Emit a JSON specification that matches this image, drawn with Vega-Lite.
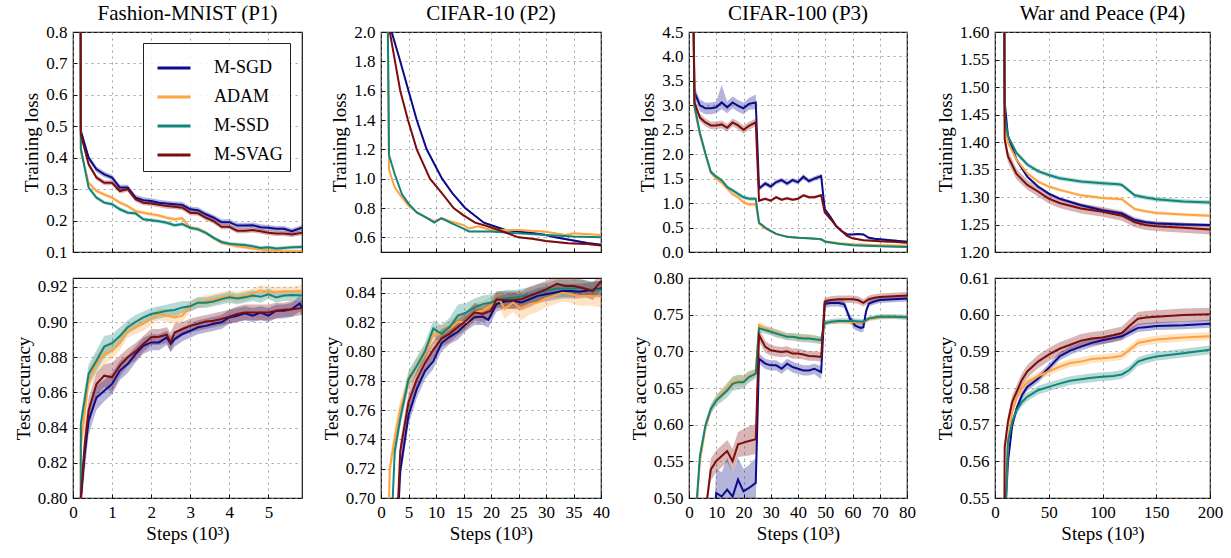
{
"$schema": "https://vega.github.io/schema/vega-lite/v6.json",
"padding": {"left": 13, "top": 2, "right": 5, "bottom": 0},
"background": "white",
"columns": 4,
"align": "each",
"spacing": {"row": 7, "column": 18},
"config": {
 "font": "Liberation Serif",
 "view": {"stroke": "#111", "strokeWidth": 1.2},
 "axis": {"grid": true, "gridColor": "#888", "gridDash": [2, 4], "gridWidth": 0.8, "domain": false, "tickSize": -4, "tickColor": "#111", "labelFont": "Liberation Serif", "labelFontSize": 17, "labelColor": "#000", "titleFont": "Liberation Serif", "titleFontSize": 19, "titleFontWeight": "normal", "titleColor": "#000", "labelPadding": 10, "labelFlush": false},
 "title": {"font": "Liberation Serif", "fontSize": 21, "fontWeight": "normal", "color": "#000", "offset": -1, "anchor": "middle", "frame": "group"},
 "legend": {"symbolType": "stroke", "symbolStrokeWidth": 3, "symbolSize": 1089, "symbolOffset": 6, "labelFont": "Liberation Serif", "labelFontSize": 18, "labelColor": "#000", "strokeColor": "#222", "fillColor": "rgba(255,255,255,0.85)", "padding": 7, "labelOffset": 22, "rowPadding": 2}
},
"datasets": {
"p1t": [
{"m":"M-SGD","x":0.18,"v":2.3,"lo":2.29,"hi":2.31},
{"m":"M-SGD","x":0.2,"v":0.486,"lo":0.477,"hi":0.495},
{"m":"M-SGD","x":0.4,"v":0.4,"lo":0.391,"hi":0.409},
{"m":"M-SGD","x":0.6,"v":0.363,"lo":0.354,"hi":0.372},
{"m":"M-SGD","x":0.8,"v":0.347,"lo":0.338,"hi":0.356},
{"m":"M-SGD","x":1.0,"v":0.337,"lo":0.328,"hi":0.346},
{"m":"M-SGD","x":1.2,"v":0.305,"lo":0.296,"hi":0.314},
{"m":"M-SGD","x":1.4,"v":0.305,"lo":0.296,"hi":0.314},
{"m":"M-SGD","x":1.6,"v":0.273,"lo":0.264,"hi":0.282},
{"m":"M-SGD","x":1.8,"v":0.265,"lo":0.256,"hi":0.274},
{"m":"M-SGD","x":2.0,"v":0.262,"lo":0.253,"hi":0.271},
{"m":"M-SGD","x":2.2,"v":0.257,"lo":0.248,"hi":0.266},
{"m":"M-SGD","x":2.4,"v":0.254,"lo":0.245,"hi":0.263},
{"m":"M-SGD","x":2.6,"v":0.252,"lo":0.243,"hi":0.261},
{"m":"M-SGD","x":2.8,"v":0.25,"lo":0.241,"hi":0.259},
{"m":"M-SGD","x":3.0,"v":0.236,"lo":0.227,"hi":0.245},
{"m":"M-SGD","x":3.2,"v":0.233,"lo":0.224,"hi":0.242},
{"m":"M-SGD","x":3.4,"v":0.22,"lo":0.211,"hi":0.229},
{"m":"M-SGD","x":3.6,"v":0.209,"lo":0.2,"hi":0.218},
{"m":"M-SGD","x":3.8,"v":0.195,"lo":0.186,"hi":0.204},
{"m":"M-SGD","x":4.0,"v":0.195,"lo":0.186,"hi":0.204},
{"m":"M-SGD","x":4.2,"v":0.184,"lo":0.175,"hi":0.193},
{"m":"M-SGD","x":4.4,"v":0.184,"lo":0.175,"hi":0.193},
{"m":"M-SGD","x":4.6,"v":0.185,"lo":0.176,"hi":0.194},
{"m":"M-SGD","x":4.8,"v":0.179,"lo":0.17,"hi":0.188},
{"m":"M-SGD","x":5.0,"v":0.177,"lo":0.168,"hi":0.186},
{"m":"M-SGD","x":5.2,"v":0.174,"lo":0.165,"hi":0.183},
{"m":"M-SGD","x":5.4,"v":0.174,"lo":0.165,"hi":0.183},
{"m":"M-SGD","x":5.6,"v":0.166,"lo":0.157,"hi":0.175},
{"m":"M-SGD","x":5.86,"v":0.177,"lo":0.168,"hi":0.186},
{"m":"ADAM","x":0.18,"v":2.3,"lo":2.29,"hi":2.31},
{"m":"ADAM","x":0.2,"v":0.42,"lo":0.414,"hi":0.426},
{"m":"ADAM","x":0.4,"v":0.32,"lo":0.314,"hi":0.326},
{"m":"ADAM","x":0.6,"v":0.294,"lo":0.288,"hi":0.3},
{"m":"ADAM","x":0.8,"v":0.283,"lo":0.277,"hi":0.289},
{"m":"ADAM","x":1.0,"v":0.273,"lo":0.267,"hi":0.279},
{"m":"ADAM","x":1.2,"v":0.257,"lo":0.251,"hi":0.263},
{"m":"ADAM","x":1.4,"v":0.246,"lo":0.24,"hi":0.252},
{"m":"ADAM","x":1.6,"v":0.23,"lo":0.224,"hi":0.236},
{"m":"ADAM","x":1.8,"v":0.225,"lo":0.219,"hi":0.231},
{"m":"ADAM","x":2.0,"v":0.22,"lo":0.214,"hi":0.226},
{"m":"ADAM","x":2.2,"v":0.216,"lo":0.21,"hi":0.222},
{"m":"ADAM","x":2.4,"v":0.209,"lo":0.203,"hi":0.215},
{"m":"ADAM","x":2.6,"v":0.204,"lo":0.198,"hi":0.21},
{"m":"ADAM","x":2.8,"v":0.207,"lo":0.201,"hi":0.213},
{"m":"ADAM","x":3.0,"v":0.177,"lo":0.171,"hi":0.183},
{"m":"ADAM","x":3.2,"v":0.174,"lo":0.168,"hi":0.18},
{"m":"ADAM","x":3.4,"v":0.161,"lo":0.155,"hi":0.167},
{"m":"ADAM","x":3.6,"v":0.145,"lo":0.139,"hi":0.151},
{"m":"ADAM","x":3.8,"v":0.129,"lo":0.123,"hi":0.135},
{"m":"ADAM","x":4.0,"v":0.124,"lo":0.118,"hi":0.13},
{"m":"ADAM","x":4.2,"v":0.118,"lo":0.112,"hi":0.124},
{"m":"ADAM","x":4.4,"v":0.115,"lo":0.109,"hi":0.121},
{"m":"ADAM","x":4.6,"v":0.111,"lo":0.105,"hi":0.117},
{"m":"ADAM","x":4.8,"v":0.108,"lo":0.102,"hi":0.114},
{"m":"ADAM","x":5.0,"v":0.105,"lo":0.099,"hi":0.111},
{"m":"ADAM","x":5.2,"v":0.105,"lo":0.099,"hi":0.111},
{"m":"ADAM","x":5.4,"v":0.102,"lo":0.096,"hi":0.108},
{"m":"ADAM","x":5.6,"v":0.102,"lo":0.096,"hi":0.108},
{"m":"ADAM","x":5.86,"v":0.102,"lo":0.096,"hi":0.108},
{"m":"M-SSD","x":0.18,"v":2.3,"lo":2.29,"hi":2.31},
{"m":"M-SSD","x":0.2,"v":0.43,"lo":0.424,"hi":0.436},
{"m":"M-SSD","x":0.4,"v":0.305,"lo":0.299,"hi":0.311},
{"m":"M-SSD","x":0.6,"v":0.273,"lo":0.267,"hi":0.279},
{"m":"M-SSD","x":0.8,"v":0.257,"lo":0.251,"hi":0.263},
{"m":"M-SSD","x":1.0,"v":0.252,"lo":0.246,"hi":0.258},
{"m":"M-SSD","x":1.2,"v":0.236,"lo":0.23,"hi":0.242},
{"m":"M-SSD","x":1.4,"v":0.225,"lo":0.219,"hi":0.231},
{"m":"M-SSD","x":1.6,"v":0.223,"lo":0.217,"hi":0.229},
{"m":"M-SSD","x":1.8,"v":0.204,"lo":0.198,"hi":0.21},
{"m":"M-SSD","x":2.0,"v":0.201,"lo":0.195,"hi":0.207},
{"m":"M-SSD","x":2.2,"v":0.198,"lo":0.192,"hi":0.204},
{"m":"M-SSD","x":2.4,"v":0.193,"lo":0.187,"hi":0.199},
{"m":"M-SSD","x":2.6,"v":0.185,"lo":0.179,"hi":0.191},
{"m":"M-SSD","x":2.8,"v":0.189,"lo":0.183,"hi":0.195},
{"m":"M-SSD","x":3.0,"v":0.177,"lo":0.171,"hi":0.183},
{"m":"M-SSD","x":3.2,"v":0.172,"lo":0.166,"hi":0.178},
{"m":"M-SSD","x":3.4,"v":0.161,"lo":0.155,"hi":0.167},
{"m":"M-SSD","x":3.6,"v":0.145,"lo":0.139,"hi":0.151},
{"m":"M-SSD","x":3.8,"v":0.132,"lo":0.126,"hi":0.138},
{"m":"M-SSD","x":4.0,"v":0.126,"lo":0.12,"hi":0.132},
{"m":"M-SSD","x":4.2,"v":0.124,"lo":0.118,"hi":0.13},
{"m":"M-SSD","x":4.4,"v":0.122,"lo":0.116,"hi":0.128},
{"m":"M-SSD","x":4.6,"v":0.118,"lo":0.112,"hi":0.124},
{"m":"M-SSD","x":4.8,"v":0.113,"lo":0.107,"hi":0.119},
{"m":"M-SSD","x":5.0,"v":0.115,"lo":0.109,"hi":0.121},
{"m":"M-SSD","x":5.2,"v":0.111,"lo":0.105,"hi":0.117},
{"m":"M-SSD","x":5.4,"v":0.113,"lo":0.107,"hi":0.119},
{"m":"M-SSD","x":5.6,"v":0.115,"lo":0.109,"hi":0.121},
{"m":"M-SSD","x":5.86,"v":0.116,"lo":0.11,"hi":0.122},
{"m":"M-SVAG","x":0.18,"v":2.3,"lo":2.29,"hi":2.31},
{"m":"M-SVAG","x":0.2,"v":0.475,"lo":0.467,"hi":0.483},
{"m":"M-SVAG","x":0.4,"v":0.379,"lo":0.371,"hi":0.387},
{"m":"M-SVAG","x":0.6,"v":0.337,"lo":0.329,"hi":0.345},
{"m":"M-SVAG","x":0.8,"v":0.32,"lo":0.312,"hi":0.328},
{"m":"M-SVAG","x":1.0,"v":0.32,"lo":0.312,"hi":0.328},
{"m":"M-SVAG","x":1.2,"v":0.294,"lo":0.286,"hi":0.302},
{"m":"M-SVAG","x":1.4,"v":0.3,"lo":0.292,"hi":0.308},
{"m":"M-SVAG","x":1.6,"v":0.268,"lo":0.26,"hi":0.276},
{"m":"M-SVAG","x":1.8,"v":0.257,"lo":0.249,"hi":0.265},
{"m":"M-SVAG","x":2.0,"v":0.254,"lo":0.246,"hi":0.262},
{"m":"M-SVAG","x":2.2,"v":0.25,"lo":0.242,"hi":0.258},
{"m":"M-SVAG","x":2.4,"v":0.246,"lo":0.238,"hi":0.254},
{"m":"M-SVAG","x":2.6,"v":0.244,"lo":0.236,"hi":0.252},
{"m":"M-SVAG","x":2.8,"v":0.241,"lo":0.233,"hi":0.249},
{"m":"M-SVAG","x":3.0,"v":0.225,"lo":0.217,"hi":0.233},
{"m":"M-SVAG","x":3.2,"v":0.223,"lo":0.215,"hi":0.231},
{"m":"M-SVAG","x":3.4,"v":0.209,"lo":0.201,"hi":0.217},
{"m":"M-SVAG","x":3.6,"v":0.198,"lo":0.19,"hi":0.206},
{"m":"M-SVAG","x":3.8,"v":0.18,"lo":0.172,"hi":0.188},
{"m":"M-SVAG","x":4.0,"v":0.18,"lo":0.172,"hi":0.188},
{"m":"M-SVAG","x":4.2,"v":0.168,"lo":0.16,"hi":0.176},
{"m":"M-SVAG","x":4.4,"v":0.168,"lo":0.16,"hi":0.176},
{"m":"M-SVAG","x":4.6,"v":0.17,"lo":0.162,"hi":0.178},
{"m":"M-SVAG","x":4.8,"v":0.166,"lo":0.158,"hi":0.174},
{"m":"M-SVAG","x":5.0,"v":0.161,"lo":0.153,"hi":0.169},
{"m":"M-SVAG","x":5.2,"v":0.159,"lo":0.151,"hi":0.167},
{"m":"M-SVAG","x":5.4,"v":0.159,"lo":0.151,"hi":0.167},
{"m":"M-SVAG","x":5.6,"v":0.156,"lo":0.148,"hi":0.164},
{"m":"M-SVAG","x":5.86,"v":0.161,"lo":0.153,"hi":0.169}
],
"p1b": [
{"m":"M-SGD","x":0.18,"v":0.3,"lo":0.3,"hi":0.3},
{"m":"M-SGD","x":0.2,"v":0.8,"lo":0.79,"hi":0.81},
{"m":"M-SGD","x":0.3,"v":0.825,"lo":0.815,"hi":0.835},
{"m":"M-SGD","x":0.4,"v":0.844,"lo":0.836,"hi":0.852},
{"m":"M-SGD","x":0.6,"v":0.857,"lo":0.85,"hi":0.864},
{"m":"M-SGD","x":0.8,"v":0.861,"lo":0.855,"hi":0.867},
{"m":"M-SGD","x":1.0,"v":0.8648,"lo":0.859,"hi":0.871},
{"m":"M-SGD","x":1.2,"v":0.8724,"lo":0.867,"hi":0.878},
{"m":"M-SGD","x":1.4,"v":0.8761,"lo":0.871,"hi":0.881},
{"m":"M-SGD","x":1.6,"v":0.8818,"lo":0.877,"hi":0.886},
{"m":"M-SGD","x":1.8,"v":0.8865,"lo":0.882,"hi":0.891},
{"m":"M-SGD","x":2.0,"v":0.8884,"lo":0.884,"hi":0.893},
{"m":"M-SGD","x":2.2,"v":0.8884,"lo":0.884,"hi":0.893},
{"m":"M-SGD","x":2.4,"v":0.8913,"lo":0.887,"hi":0.895},
{"m":"M-SGD","x":2.5,"v":0.8875,"lo":0.883,"hi":0.892},
{"m":"M-SGD","x":2.6,"v":0.8903,"lo":0.886,"hi":0.894},
{"m":"M-SGD","x":2.8,"v":0.8932,"lo":0.889,"hi":0.897},
{"m":"M-SGD","x":3.0,"v":0.895,"lo":0.891,"hi":0.899},
{"m":"M-SGD","x":3.2,"v":0.897,"lo":0.893,"hi":0.901},
{"m":"M-SGD","x":3.4,"v":0.8978,"lo":0.894,"hi":0.902},
{"m":"M-SGD","x":3.6,"v":0.899,"lo":0.895,"hi":0.903},
{"m":"M-SGD","x":3.8,"v":0.8998,"lo":0.896,"hi":0.904},
{"m":"M-SGD","x":4.0,"v":0.9026,"lo":0.899,"hi":0.907},
{"m":"M-SGD","x":4.2,"v":0.9036,"lo":0.9,"hi":0.908},
{"m":"M-SGD","x":4.4,"v":0.905,"lo":0.901,"hi":0.909},
{"m":"M-SGD","x":4.6,"v":0.9036,"lo":0.9,"hi":0.908},
{"m":"M-SGD","x":4.8,"v":0.9054,"lo":0.901,"hi":0.909},
{"m":"M-SGD","x":5.0,"v":0.9036,"lo":0.9,"hi":0.908},
{"m":"M-SGD","x":5.2,"v":0.9064,"lo":0.902,"hi":0.91},
{"m":"M-SGD","x":5.4,"v":0.9064,"lo":0.902,"hi":0.91},
{"m":"M-SGD","x":5.6,"v":0.9073,"lo":0.903,"hi":0.911},
{"m":"M-SGD","x":5.8,"v":0.9105,"lo":0.906,"hi":0.915},
{"m":"M-SGD","x":5.86,"v":0.908,"lo":0.904,"hi":0.912},
{"m":"ADAM","x":0.18,"v":0.3,"lo":0.3,"hi":0.3},
{"m":"ADAM","x":0.2,"v":0.83,"lo":0.822,"hi":0.838},
{"m":"ADAM","x":0.4,"v":0.8667,"lo":0.861,"hi":0.873},
{"m":"ADAM","x":0.6,"v":0.876,"lo":0.87,"hi":0.882},
{"m":"ADAM","x":0.8,"v":0.8818,"lo":0.876,"hi":0.887},
{"m":"ADAM","x":1.0,"v":0.8837,"lo":0.879,"hi":0.889},
{"m":"ADAM","x":1.2,"v":0.8884,"lo":0.884,"hi":0.893},
{"m":"ADAM","x":1.4,"v":0.895,"lo":0.891,"hi":0.899},
{"m":"ADAM","x":1.6,"v":0.897,"lo":0.893,"hi":0.901},
{"m":"ADAM","x":1.8,"v":0.899,"lo":0.895,"hi":0.903},
{"m":"ADAM","x":2.0,"v":0.9017,"lo":0.898,"hi":0.905},
{"m":"ADAM","x":2.2,"v":0.9045,"lo":0.901,"hi":0.908},
{"m":"ADAM","x":2.4,"v":0.9036,"lo":0.9,"hi":0.907},
{"m":"ADAM","x":2.6,"v":0.9026,"lo":0.899,"hi":0.906},
{"m":"ADAM","x":2.8,"v":0.9036,"lo":0.9,"hi":0.907},
{"m":"ADAM","x":3.0,"v":0.909,"lo":0.906,"hi":0.912},
{"m":"ADAM","x":3.2,"v":0.911,"lo":0.908,"hi":0.914},
{"m":"ADAM","x":3.4,"v":0.912,"lo":0.909,"hi":0.915},
{"m":"ADAM","x":3.6,"v":0.913,"lo":0.91,"hi":0.916},
{"m":"ADAM","x":3.8,"v":0.914,"lo":0.911,"hi":0.917},
{"m":"ADAM","x":4.0,"v":0.915,"lo":0.912,"hi":0.918},
{"m":"ADAM","x":4.2,"v":0.914,"lo":0.911,"hi":0.917},
{"m":"ADAM","x":4.4,"v":0.915,"lo":0.912,"hi":0.918},
{"m":"ADAM","x":4.6,"v":0.9162,"lo":0.913,"hi":0.919},
{"m":"ADAM","x":4.8,"v":0.918,"lo":0.915,"hi":0.921},
{"m":"ADAM","x":5.0,"v":0.9168,"lo":0.914,"hi":0.92},
{"m":"ADAM","x":5.2,"v":0.9172,"lo":0.914,"hi":0.92},
{"m":"ADAM","x":5.4,"v":0.9174,"lo":0.914,"hi":0.92},
{"m":"ADAM","x":5.6,"v":0.9174,"lo":0.914,"hi":0.92},
{"m":"ADAM","x":5.86,"v":0.9177,"lo":0.915,"hi":0.921},
{"m":"M-SSD","x":0.18,"v":0.3,"lo":0.3,"hi":0.3},
{"m":"M-SSD","x":0.2,"v":0.842,"lo":0.836,"hi":0.848},
{"m":"M-SSD","x":0.4,"v":0.8705,"lo":0.864,"hi":0.876},
{"m":"M-SSD","x":0.6,"v":0.878,"lo":0.872,"hi":0.884},
{"m":"M-SSD","x":0.8,"v":0.886,"lo":0.88,"hi":0.892},
{"m":"M-SSD","x":1.0,"v":0.888,"lo":0.883,"hi":0.893},
{"m":"M-SSD","x":1.2,"v":0.892,"lo":0.887,"hi":0.897},
{"m":"M-SSD","x":1.4,"v":0.897,"lo":0.893,"hi":0.901},
{"m":"M-SSD","x":1.6,"v":0.9,"lo":0.896,"hi":0.904},
{"m":"M-SSD","x":1.8,"v":0.9026,"lo":0.899,"hi":0.906},
{"m":"M-SSD","x":2.0,"v":0.9045,"lo":0.901,"hi":0.908},
{"m":"M-SSD","x":2.2,"v":0.9054,"lo":0.902,"hi":0.909},
{"m":"M-SSD","x":2.4,"v":0.9064,"lo":0.903,"hi":0.91},
{"m":"M-SSD","x":2.6,"v":0.9068,"lo":0.903,"hi":0.911},
{"m":"M-SSD","x":2.8,"v":0.9083,"lo":0.905,"hi":0.912},
{"m":"M-SSD","x":3.0,"v":0.909,"lo":0.906,"hi":0.912},
{"m":"M-SSD","x":3.2,"v":0.911,"lo":0.908,"hi":0.914},
{"m":"M-SSD","x":3.4,"v":0.911,"lo":0.908,"hi":0.914},
{"m":"M-SSD","x":3.6,"v":0.9117,"lo":0.909,"hi":0.915},
{"m":"M-SSD","x":3.8,"v":0.913,"lo":0.91,"hi":0.916},
{"m":"M-SSD","x":4.0,"v":0.914,"lo":0.911,"hi":0.917},
{"m":"M-SSD","x":4.2,"v":0.9134,"lo":0.91,"hi":0.916},
{"m":"M-SSD","x":4.4,"v":0.914,"lo":0.911,"hi":0.917},
{"m":"M-SSD","x":4.6,"v":0.915,"lo":0.912,"hi":0.918},
{"m":"M-SSD","x":4.8,"v":0.9143,"lo":0.911,"hi":0.917},
{"m":"M-SSD","x":5.0,"v":0.9158,"lo":0.913,"hi":0.919},
{"m":"M-SSD","x":5.2,"v":0.914,"lo":0.911,"hi":0.917},
{"m":"M-SSD","x":5.4,"v":0.915,"lo":0.912,"hi":0.918},
{"m":"M-SSD","x":5.6,"v":0.9153,"lo":0.912,"hi":0.918},
{"m":"M-SSD","x":5.86,"v":0.915,"lo":0.912,"hi":0.918},
{"m":"M-SVAG","x":0.18,"v":0.3,"lo":0.3,"hi":0.3},
{"m":"M-SVAG","x":0.2,"v":0.8,"lo":0.79,"hi":0.81},
{"m":"M-SVAG","x":0.3,"v":0.83,"lo":0.82,"hi":0.84},
{"m":"M-SVAG","x":0.4,"v":0.8497,"lo":0.842,"hi":0.857},
{"m":"M-SVAG","x":0.6,"v":0.8648,"lo":0.858,"hi":0.871},
{"m":"M-SVAG","x":0.8,"v":0.8695,"lo":0.863,"hi":0.876},
{"m":"M-SVAG","x":1.0,"v":0.8686,"lo":0.86,"hi":0.877},
{"m":"M-SVAG","x":1.2,"v":0.8752,"lo":0.869,"hi":0.881},
{"m":"M-SVAG","x":1.4,"v":0.88,"lo":0.875,"hi":0.885},
{"m":"M-SVAG","x":1.6,"v":0.8833,"lo":0.878,"hi":0.888},
{"m":"M-SVAG","x":1.8,"v":0.8875,"lo":0.883,"hi":0.892},
{"m":"M-SVAG","x":2.0,"v":0.8913,"lo":0.887,"hi":0.896},
{"m":"M-SVAG","x":2.2,"v":0.8916,"lo":0.887,"hi":0.896},
{"m":"M-SVAG","x":2.4,"v":0.8928,"lo":0.888,"hi":0.897},
{"m":"M-SVAG","x":2.5,"v":0.8884,"lo":0.883,"hi":0.894},
{"m":"M-SVAG","x":2.6,"v":0.894,"lo":0.889,"hi":0.899},
{"m":"M-SVAG","x":2.8,"v":0.896,"lo":0.892,"hi":0.9},
{"m":"M-SVAG","x":3.0,"v":0.8978,"lo":0.894,"hi":0.902},
{"m":"M-SVAG","x":3.2,"v":0.899,"lo":0.895,"hi":0.903},
{"m":"M-SVAG","x":3.4,"v":0.9003,"lo":0.896,"hi":0.904},
{"m":"M-SVAG","x":3.6,"v":0.9007,"lo":0.897,"hi":0.905},
{"m":"M-SVAG","x":3.8,"v":0.9017,"lo":0.898,"hi":0.906},
{"m":"M-SVAG","x":4.0,"v":0.903,"lo":0.899,"hi":0.907},
{"m":"M-SVAG","x":4.2,"v":0.9045,"lo":0.9,"hi":0.909},
{"m":"M-SVAG","x":4.4,"v":0.9054,"lo":0.901,"hi":0.91},
{"m":"M-SVAG","x":4.6,"v":0.9054,"lo":0.901,"hi":0.91},
{"m":"M-SVAG","x":4.8,"v":0.9054,"lo":0.901,"hi":0.91},
{"m":"M-SVAG","x":5.0,"v":0.9054,"lo":0.901,"hi":0.91},
{"m":"M-SVAG","x":5.2,"v":0.9064,"lo":0.902,"hi":0.911},
{"m":"M-SVAG","x":5.4,"v":0.907,"lo":0.903,"hi":0.911},
{"m":"M-SVAG","x":5.6,"v":0.9073,"lo":0.903,"hi":0.912},
{"m":"M-SVAG","x":5.86,"v":0.908,"lo":0.904,"hi":0.912}
],
"p2t": [
{"m":"M-SGD","x":1.6,"v":2.3,"lo":2.29,"hi":2.31},
{"m":"M-SGD","x":1.94,"v":2.0,"lo":1.99,"hi":2.01},
{"m":"M-SGD","x":3.5,"v":1.8,"lo":1.792,"hi":1.808},
{"m":"M-SGD","x":5.0,"v":1.6,"lo":1.592,"hi":1.608},
{"m":"M-SGD","x":6.5,"v":1.4,"lo":1.392,"hi":1.408},
{"m":"M-SGD","x":8.3,"v":1.2,"lo":1.193,"hi":1.207},
{"m":"M-SGD","x":11.1,"v":1.0,"lo":0.993,"hi":1.007},
{"m":"M-SGD","x":13,"v":0.9,"lo":0.893,"hi":0.907},
{"m":"M-SGD","x":15.3,"v":0.8,"lo":0.793,"hi":0.807},
{"m":"M-SGD","x":18.7,"v":0.7,"lo":0.693,"hi":0.707},
{"m":"M-SGD","x":22.6,"v":0.65,"lo":0.643,"hi":0.657},
{"m":"M-SGD","x":25,"v":0.64,"lo":0.633,"hi":0.647},
{"m":"M-SGD","x":28,"v":0.627,"lo":0.62,"hi":0.634},
{"m":"M-SGD","x":30,"v":0.616,"lo":0.609,"hi":0.623},
{"m":"M-SGD","x":31.7,"v":0.6,"lo":0.593,"hi":0.607},
{"m":"M-SGD","x":35,"v":0.578,"lo":0.571,"hi":0.585},
{"m":"M-SGD","x":37.5,"v":0.562,"lo":0.555,"hi":0.569},
{"m":"M-SGD","x":40,"v":0.549,"lo":0.542,"hi":0.556},
{"m":"ADAM","x":1.1,"v":2.6,"lo":2.59,"hi":2.61},
{"m":"ADAM","x":1.46,"v":1.06,"lo":1.052,"hi":1.068},
{"m":"ADAM","x":2.5,"v":0.94,"lo":0.933,"hi":0.947},
{"m":"ADAM","x":3.8,"v":0.873,"lo":0.867,"hi":0.879},
{"m":"ADAM","x":5,"v":0.817,"lo":0.811,"hi":0.823},
{"m":"ADAM","x":6.5,"v":0.77,"lo":0.764,"hi":0.776},
{"m":"ADAM","x":8,"v":0.74,"lo":0.734,"hi":0.746},
{"m":"ADAM","x":9.7,"v":0.71,"lo":0.704,"hi":0.716},
{"m":"ADAM","x":11,"v":0.73,"lo":0.724,"hi":0.736},
{"m":"ADAM","x":12.6,"v":0.71,"lo":0.704,"hi":0.716},
{"m":"ADAM","x":15,"v":0.683,"lo":0.677,"hi":0.689},
{"m":"ADAM","x":16,"v":0.66,"lo":0.654,"hi":0.666},
{"m":"ADAM","x":17.7,"v":0.676,"lo":0.67,"hi":0.682},
{"m":"ADAM","x":20,"v":0.65,"lo":0.644,"hi":0.656},
{"m":"ADAM","x":25,"v":0.65,"lo":0.644,"hi":0.656},
{"m":"ADAM","x":30,"v":0.638,"lo":0.632,"hi":0.644},
{"m":"ADAM","x":33.5,"v":0.616,"lo":0.61,"hi":0.622},
{"m":"ADAM","x":35,"v":0.627,"lo":0.621,"hi":0.633},
{"m":"ADAM","x":40,"v":0.616,"lo":0.61,"hi":0.622},
{"m":"M-SSD","x":1.1,"v":2.6,"lo":2.59,"hi":2.61},
{"m":"M-SSD","x":1.46,"v":1.16,"lo":1.152,"hi":1.168},
{"m":"M-SSD","x":2.5,"v":1.03,"lo":1.023,"hi":1.037},
{"m":"M-SSD","x":3.8,"v":0.895,"lo":0.889,"hi":0.901},
{"m":"M-SSD","x":5,"v":0.83,"lo":0.824,"hi":0.836},
{"m":"M-SSD","x":6.5,"v":0.77,"lo":0.765,"hi":0.775},
{"m":"M-SSD","x":8,"v":0.74,"lo":0.735,"hi":0.745},
{"m":"M-SSD","x":9.7,"v":0.7,"lo":0.695,"hi":0.705},
{"m":"M-SSD","x":11,"v":0.73,"lo":0.725,"hi":0.735},
{"m":"M-SSD","x":12.6,"v":0.7,"lo":0.695,"hi":0.705},
{"m":"M-SSD","x":15,"v":0.66,"lo":0.655,"hi":0.665},
{"m":"M-SSD","x":16,"v":0.64,"lo":0.635,"hi":0.645},
{"m":"M-SSD","x":20,"v":0.64,"lo":0.635,"hi":0.645},
{"m":"M-SSD","x":25,"v":0.627,"lo":0.622,"hi":0.632},
{"m":"M-SSD","x":30,"v":0.616,"lo":0.611,"hi":0.621},
{"m":"M-SSD","x":35,"v":0.605,"lo":0.6,"hi":0.61},
{"m":"M-SSD","x":40,"v":0.6,"lo":0.595,"hi":0.605},
{"m":"M-SVAG","x":1.0,"v":2.6,"lo":2.59,"hi":2.61},
{"m":"M-SVAG","x":1.6,"v":2.0,"lo":1.99,"hi":2.01},
{"m":"M-SVAG","x":2.55,"v":1.8,"lo":1.792,"hi":1.808},
{"m":"M-SVAG","x":3.5,"v":1.6,"lo":1.592,"hi":1.608},
{"m":"M-SVAG","x":4.9,"v":1.4,"lo":1.393,"hi":1.407},
{"m":"M-SVAG","x":6.5,"v":1.2,"lo":1.194,"hi":1.206},
{"m":"M-SVAG","x":8.9,"v":1.0,"lo":0.994,"hi":1.006},
{"m":"M-SVAG","x":11.1,"v":0.9,"lo":0.894,"hi":0.906},
{"m":"M-SVAG","x":13.2,"v":0.8,"lo":0.794,"hi":0.806},
{"m":"M-SVAG","x":15,"v":0.75,"lo":0.744,"hi":0.756},
{"m":"M-SVAG","x":17.1,"v":0.7,"lo":0.694,"hi":0.706},
{"m":"M-SVAG","x":19,"v":0.68,"lo":0.674,"hi":0.686},
{"m":"M-SVAG","x":21.4,"v":0.65,"lo":0.644,"hi":0.656},
{"m":"M-SVAG","x":25,"v":0.6,"lo":0.594,"hi":0.606},
{"m":"M-SVAG","x":27.5,"v":0.59,"lo":0.584,"hi":0.596},
{"m":"M-SVAG","x":30,"v":0.575,"lo":0.569,"hi":0.581},
{"m":"M-SVAG","x":34,"v":0.56,"lo":0.554,"hi":0.566},
{"m":"M-SVAG","x":37.5,"v":0.555,"lo":0.549,"hi":0.561},
{"m":"M-SVAG","x":40,"v":0.545,"lo":0.539,"hi":0.551}
],
"p2b": [
{"m":"M-SGD","x":2.0,"v":0.6,"lo":0.6,"hi":0.6},
{"m":"M-SGD","x":3.5,"v":0.7185,"lo":0.712,"hi":0.725},
{"m":"M-SGD","x":5,"v":0.7564,"lo":0.75,"hi":0.763},
{"m":"M-SGD","x":6.5,"v":0.7742,"lo":0.768,"hi":0.78},
{"m":"M-SGD","x":8,"v":0.7865,"lo":0.781,"hi":0.792},
{"m":"M-SGD","x":9.5,"v":0.7932,"lo":0.788,"hi":0.799},
{"m":"M-SGD","x":11,"v":0.8055,"lo":0.8,"hi":0.811},
{"m":"M-SGD","x":12.5,"v":0.8099,"lo":0.805,"hi":0.815},
{"m":"M-SGD","x":14,"v":0.8133,"lo":0.808,"hi":0.819},
{"m":"M-SGD","x":15.5,"v":0.8188,"lo":0.814,"hi":0.824},
{"m":"M-SGD","x":17,"v":0.8233,"lo":0.818,"hi":0.829},
{"m":"M-SGD","x":18.5,"v":0.8237,"lo":0.818,"hi":0.829},
{"m":"M-SGD","x":19.5,"v":0.8215,"lo":0.816,"hi":0.827},
{"m":"M-SGD","x":21,"v":0.8322,"lo":0.827,"hi":0.837},
{"m":"M-SGD","x":22.5,"v":0.834,"lo":0.829,"hi":0.839},
{"m":"M-SGD","x":24,"v":0.8344,"lo":0.829,"hi":0.84},
{"m":"M-SGD","x":25.5,"v":0.8333,"lo":0.828,"hi":0.839},
{"m":"M-SGD","x":27,"v":0.8355,"lo":0.83,"hi":0.841},
{"m":"M-SGD","x":28.5,"v":0.8378,"lo":0.833,"hi":0.843},
{"m":"M-SGD","x":30,"v":0.8389,"lo":0.834,"hi":0.844},
{"m":"M-SGD","x":31.5,"v":0.84,"lo":0.835,"hi":0.845},
{"m":"M-SGD","x":33,"v":0.8411,"lo":0.836,"hi":0.846},
{"m":"M-SGD","x":34.5,"v":0.8411,"lo":0.836,"hi":0.846},
{"m":"M-SGD","x":36,"v":0.8407,"lo":0.836,"hi":0.846},
{"m":"M-SGD","x":38,"v":0.8416,"lo":0.837,"hi":0.847},
{"m":"M-SGD","x":40,"v":0.8429,"lo":0.838,"hi":0.848},
{"m":"ADAM","x":0.8,"v":0.6,"lo":0.6,"hi":0.6},
{"m":"ADAM","x":1.6,"v":0.72,"lo":0.712,"hi":0.728},
{"m":"ADAM","x":2.5,"v":0.741,"lo":0.734,"hi":0.748},
{"m":"ADAM","x":3.5,"v":0.761,"lo":0.755,"hi":0.767},
{"m":"ADAM","x":5,"v":0.779,"lo":0.773,"hi":0.785},
{"m":"ADAM","x":6.5,"v":0.79,"lo":0.784,"hi":0.796},
{"m":"ADAM","x":8,"v":0.798,"lo":0.792,"hi":0.804},
{"m":"ADAM","x":9.5,"v":0.811,"lo":0.805,"hi":0.817},
{"m":"ADAM","x":11,"v":0.812,"lo":0.806,"hi":0.818},
{"m":"ADAM","x":12.5,"v":0.8155,"lo":0.81,"hi":0.821},
{"m":"ADAM","x":14,"v":0.82,"lo":0.814,"hi":0.826},
{"m":"ADAM","x":15.5,"v":0.82,"lo":0.814,"hi":0.826},
{"m":"ADAM","x":17,"v":0.8266,"lo":0.821,"hi":0.833},
{"m":"ADAM","x":18.5,"v":0.8277,"lo":0.822,"hi":0.834},
{"m":"ADAM","x":20,"v":0.8311,"lo":0.825,"hi":0.837},
{"m":"ADAM","x":21.5,"v":0.8355,"lo":0.83,"hi":0.841},
{"m":"ADAM","x":22.5,"v":0.8289,"lo":0.822,"hi":0.836},
{"m":"ADAM","x":24,"v":0.8333,"lo":0.827,"hi":0.84},
{"m":"ADAM","x":25.5,"v":0.8289,"lo":0.821,"hi":0.837},
{"m":"ADAM","x":27,"v":0.8322,"lo":0.825,"hi":0.839},
{"m":"ADAM","x":28.5,"v":0.8333,"lo":0.827,"hi":0.84},
{"m":"ADAM","x":30,"v":0.8362,"lo":0.83,"hi":0.842},
{"m":"ADAM","x":31.5,"v":0.8378,"lo":0.832,"hi":0.844},
{"m":"ADAM","x":33,"v":0.84,"lo":0.834,"hi":0.846},
{"m":"ADAM","x":34.5,"v":0.8389,"lo":0.833,"hi":0.845},
{"m":"ADAM","x":36,"v":0.8378,"lo":0.831,"hi":0.844},
{"m":"ADAM","x":38,"v":0.8378,"lo":0.831,"hi":0.845},
{"m":"ADAM","x":40,"v":0.8373,"lo":0.83,"hi":0.845},
{"m":"M-SSD","x":1.0,"v":0.6,"lo":0.6,"hi":0.6},
{"m":"M-SSD","x":2.5,"v":0.732,"lo":0.725,"hi":0.739},
{"m":"M-SSD","x":3.5,"v":0.754,"lo":0.748,"hi":0.76},
{"m":"M-SSD","x":5,"v":0.781,"lo":0.775,"hi":0.787},
{"m":"M-SSD","x":6.5,"v":0.79,"lo":0.784,"hi":0.796},
{"m":"M-SSD","x":8,"v":0.8,"lo":0.794,"hi":0.806},
{"m":"M-SSD","x":9.5,"v":0.8155,"lo":0.81,"hi":0.821},
{"m":"M-SSD","x":11,"v":0.812,"lo":0.806,"hi":0.818},
{"m":"M-SSD","x":12.5,"v":0.8166,"lo":0.81,"hi":0.823},
{"m":"M-SSD","x":14,"v":0.8244,"lo":0.816,"hi":0.832},
{"m":"M-SSD","x":15.5,"v":0.8266,"lo":0.82,"hi":0.833},
{"m":"M-SSD","x":17,"v":0.83,"lo":0.824,"hi":0.836},
{"m":"M-SSD","x":18.5,"v":0.8322,"lo":0.826,"hi":0.838},
{"m":"M-SSD","x":20,"v":0.8333,"lo":0.827,"hi":0.839},
{"m":"M-SSD","x":21.5,"v":0.8355,"lo":0.83,"hi":0.841},
{"m":"M-SSD","x":23,"v":0.8362,"lo":0.831,"hi":0.842},
{"m":"M-SSD","x":24.5,"v":0.8367,"lo":0.831,"hi":0.842},
{"m":"M-SSD","x":26,"v":0.8378,"lo":0.832,"hi":0.843},
{"m":"M-SSD","x":27.5,"v":0.8384,"lo":0.833,"hi":0.844},
{"m":"M-SSD","x":29,"v":0.84,"lo":0.834,"hi":0.846},
{"m":"M-SSD","x":30.5,"v":0.8416,"lo":0.836,"hi":0.847},
{"m":"M-SSD","x":32,"v":0.8429,"lo":0.837,"hi":0.849},
{"m":"M-SSD","x":33.5,"v":0.8429,"lo":0.837,"hi":0.849},
{"m":"M-SSD","x":35,"v":0.8429,"lo":0.837,"hi":0.849},
{"m":"M-SSD","x":36.5,"v":0.8433,"lo":0.838,"hi":0.849},
{"m":"M-SSD","x":38,"v":0.8422,"lo":0.837,"hi":0.848},
{"m":"M-SSD","x":40,"v":0.8422,"lo":0.837,"hi":0.848},
{"m":"M-SVAG","x":2.0,"v":0.6,"lo":0.6,"hi":0.6},
{"m":"M-SVAG","x":3.5,"v":0.732,"lo":0.725,"hi":0.739},
{"m":"M-SVAG","x":5,"v":0.7653,"lo":0.759,"hi":0.772},
{"m":"M-SVAG","x":6.5,"v":0.7809,"lo":0.775,"hi":0.787},
{"m":"M-SVAG","x":8,"v":0.7921,"lo":0.786,"hi":0.798},
{"m":"M-SVAG","x":9.5,"v":0.801,"lo":0.795,"hi":0.807},
{"m":"M-SVAG","x":11,"v":0.8088,"lo":0.803,"hi":0.815},
{"m":"M-SVAG","x":12.5,"v":0.8121,"lo":0.806,"hi":0.818},
{"m":"M-SVAG","x":14,"v":0.8166,"lo":0.811,"hi":0.822},
{"m":"M-SVAG","x":15.5,"v":0.821,"lo":0.815,"hi":0.827},
{"m":"M-SVAG","x":17,"v":0.8266,"lo":0.821,"hi":0.833},
{"m":"M-SVAG","x":18.5,"v":0.8255,"lo":0.82,"hi":0.831},
{"m":"M-SVAG","x":20,"v":0.8277,"lo":0.822,"hi":0.834},
{"m":"M-SVAG","x":21,"v":0.8355,"lo":0.83,"hi":0.841},
{"m":"M-SVAG","x":22.5,"v":0.8349,"lo":0.829,"hi":0.841},
{"m":"M-SVAG","x":24,"v":0.8349,"lo":0.829,"hi":0.841},
{"m":"M-SVAG","x":25.5,"v":0.8355,"lo":0.83,"hi":0.841},
{"m":"M-SVAG","x":27,"v":0.8378,"lo":0.832,"hi":0.844},
{"m":"M-SVAG","x":28.5,"v":0.84,"lo":0.834,"hi":0.846},
{"m":"M-SVAG","x":30,"v":0.8422,"lo":0.836,"hi":0.848},
{"m":"M-SVAG","x":32,"v":0.846,"lo":0.84,"hi":0.852},
{"m":"M-SVAG","x":33.5,"v":0.8445,"lo":0.839,"hi":0.85},
{"m":"M-SVAG","x":35,"v":0.8445,"lo":0.839,"hi":0.85},
{"m":"M-SVAG","x":36.5,"v":0.8433,"lo":0.838,"hi":0.849},
{"m":"M-SVAG","x":38.5,"v":0.8411,"lo":0.835,"hi":0.847},
{"m":"M-SVAG","x":40,"v":0.8478,"lo":0.842,"hi":0.853}
],
"p3t": [
{"m":"M-SGD","x":1.5,"v":5.5,"lo":5.4,"hi":5.6},
{"m":"M-SGD","x":2,"v":3.27,"lo":3.15,"hi":3.39},
{"m":"M-SGD","x":4,"v":3.0,"lo":2.88,"hi":3.12},
{"m":"M-SGD","x":6,"v":2.94,"lo":2.82,"hi":3.06},
{"m":"M-SGD","x":8,"v":2.94,"lo":2.82,"hi":3.06},
{"m":"M-SGD","x":10,"v":2.96,"lo":2.84,"hi":3.08},
{"m":"M-SGD","x":12,"v":3.06,"lo":2.92,"hi":3.42},
{"m":"M-SGD","x":14,"v":2.96,"lo":2.84,"hi":3.08},
{"m":"M-SGD","x":16,"v":3.06,"lo":2.94,"hi":3.18},
{"m":"M-SGD","x":18,"v":2.99,"lo":2.87,"hi":3.11},
{"m":"M-SGD","x":20,"v":2.94,"lo":2.82,"hi":3.06},
{"m":"M-SGD","x":22,"v":3.03,"lo":2.91,"hi":3.15},
{"m":"M-SGD","x":24.5,"v":3.06,"lo":2.92,"hi":3.22},
{"m":"M-SGD","x":25.7,"v":1.3,"lo":1.25,"hi":1.35},
{"m":"M-SGD","x":28,"v":1.4,"lo":1.35,"hi":1.45},
{"m":"M-SGD","x":30,"v":1.34,"lo":1.29,"hi":1.39},
{"m":"M-SGD","x":32,"v":1.43,"lo":1.38,"hi":1.48},
{"m":"M-SGD","x":34,"v":1.47,"lo":1.42,"hi":1.52},
{"m":"M-SGD","x":36,"v":1.4,"lo":1.35,"hi":1.45},
{"m":"M-SGD","x":38,"v":1.47,"lo":1.42,"hi":1.52},
{"m":"M-SGD","x":40,"v":1.43,"lo":1.38,"hi":1.48},
{"m":"M-SGD","x":42,"v":1.54,"lo":1.49,"hi":1.59},
{"m":"M-SGD","x":44,"v":1.45,"lo":1.4,"hi":1.5},
{"m":"M-SGD","x":46,"v":1.5,"lo":1.45,"hi":1.55},
{"m":"M-SGD","x":48.5,"v":1.55,"lo":1.5,"hi":1.6},
{"m":"M-SGD","x":49.8,"v":0.88,"lo":0.85,"hi":0.91},
{"m":"M-SGD","x":52,"v":0.71,"lo":0.69,"hi":0.73},
{"m":"M-SGD","x":54,"v":0.53,"lo":0.51,"hi":0.55},
{"m":"M-SGD","x":56,"v":0.43,"lo":0.41,"hi":0.45},
{"m":"M-SGD","x":58,"v":0.36,"lo":0.34,"hi":0.38},
{"m":"M-SGD","x":60,"v":0.36,"lo":0.34,"hi":0.38},
{"m":"M-SGD","x":62,"v":0.37,"lo":0.35,"hi":0.39},
{"m":"M-SGD","x":64,"v":0.36,"lo":0.34,"hi":0.38},
{"m":"M-SGD","x":66,"v":0.29,"lo":0.27,"hi":0.31},
{"m":"M-SGD","x":68,"v":0.27,"lo":0.25,"hi":0.29},
{"m":"M-SGD","x":70,"v":0.26,"lo":0.24,"hi":0.28},
{"m":"M-SGD","x":75,"v":0.235,"lo":0.215,"hi":0.255},
{"m":"M-SGD","x":80,"v":0.21,"lo":0.19,"hi":0.23},
{"m":"ADAM","x":1.5,"v":5.5,"lo":5.4,"hi":5.6},
{"m":"ADAM","x":2,"v":2.95,"lo":2.91,"hi":2.99},
{"m":"ADAM","x":4,"v":2.4,"lo":2.36,"hi":2.44},
{"m":"ADAM","x":6,"v":2.0,"lo":1.96,"hi":2.04},
{"m":"ADAM","x":8,"v":1.62,"lo":1.58,"hi":1.66},
{"m":"ADAM","x":10,"v":1.5,"lo":1.46,"hi":1.54},
{"m":"ADAM","x":12,"v":1.42,"lo":1.38,"hi":1.46},
{"m":"ADAM","x":14,"v":1.3,"lo":1.26,"hi":1.34},
{"m":"ADAM","x":16,"v":1.18,"lo":1.14,"hi":1.22},
{"m":"ADAM","x":18,"v":1.12,"lo":1.08,"hi":1.16},
{"m":"ADAM","x":20,"v":1.02,"lo":0.98,"hi":1.06},
{"m":"ADAM","x":22,"v":0.97,"lo":0.93,"hi":1.01},
{"m":"ADAM","x":24.5,"v":0.98,"lo":0.94,"hi":1.02},
{"m":"ADAM","x":25.7,"v":0.58,"lo":0.55,"hi":0.61},
{"m":"ADAM","x":28,"v":0.48,"lo":0.46,"hi":0.5},
{"m":"ADAM","x":30,"v":0.42,"lo":0.4,"hi":0.44},
{"m":"ADAM","x":32,"v":0.37,"lo":0.35,"hi":0.39},
{"m":"ADAM","x":34,"v":0.34,"lo":0.32,"hi":0.36},
{"m":"ADAM","x":36,"v":0.31,"lo":0.29,"hi":0.33},
{"m":"ADAM","x":40,"v":0.29,"lo":0.27,"hi":0.31},
{"m":"ADAM","x":44,"v":0.28,"lo":0.26,"hi":0.3},
{"m":"ADAM","x":48.5,"v":0.26,"lo":0.24,"hi":0.28},
{"m":"ADAM","x":50,"v":0.22,"lo":0.2,"hi":0.24},
{"m":"ADAM","x":55,"v":0.18,"lo":0.16,"hi":0.2},
{"m":"ADAM","x":60,"v":0.16,"lo":0.14,"hi":0.18},
{"m":"ADAM","x":70,"v":0.14,"lo":0.12,"hi":0.16},
{"m":"ADAM","x":80,"v":0.13,"lo":0.11,"hi":0.15},
{"m":"M-SSD","x":1.5,"v":5.5,"lo":5.4,"hi":5.6},
{"m":"M-SSD","x":2,"v":2.99,"lo":2.95,"hi":3.03},
{"m":"M-SSD","x":4,"v":2.44,"lo":2.4,"hi":2.48},
{"m":"M-SSD","x":6,"v":2.02,"lo":1.98,"hi":2.06},
{"m":"M-SSD","x":8,"v":1.64,"lo":1.6,"hi":1.68},
{"m":"M-SSD","x":10,"v":1.54,"lo":1.5,"hi":1.58},
{"m":"M-SSD","x":12,"v":1.47,"lo":1.43,"hi":1.51},
{"m":"M-SSD","x":14,"v":1.33,"lo":1.29,"hi":1.37},
{"m":"M-SSD","x":16,"v":1.26,"lo":1.22,"hi":1.3},
{"m":"M-SSD","x":18,"v":1.19,"lo":1.15,"hi":1.23},
{"m":"M-SSD","x":20,"v":1.12,"lo":1.08,"hi":1.16},
{"m":"M-SSD","x":22,"v":1.09,"lo":1.05,"hi":1.13},
{"m":"M-SSD","x":24.5,"v":1.09,"lo":1.05,"hi":1.13},
{"m":"M-SSD","x":25.7,"v":0.6,"lo":0.57,"hi":0.63},
{"m":"M-SSD","x":28,"v":0.5,"lo":0.48,"hi":0.52},
{"m":"M-SSD","x":30,"v":0.43,"lo":0.41,"hi":0.45},
{"m":"M-SSD","x":32,"v":0.37,"lo":0.35,"hi":0.39},
{"m":"M-SSD","x":34,"v":0.34,"lo":0.32,"hi":0.36},
{"m":"M-SSD","x":36,"v":0.31,"lo":0.29,"hi":0.33},
{"m":"M-SSD","x":40,"v":0.29,"lo":0.27,"hi":0.31},
{"m":"M-SSD","x":44,"v":0.28,"lo":0.26,"hi":0.3},
{"m":"M-SSD","x":48.5,"v":0.26,"lo":0.24,"hi":0.28},
{"m":"M-SSD","x":50,"v":0.21,"lo":0.19,"hi":0.23},
{"m":"M-SSD","x":55,"v":0.17,"lo":0.15,"hi":0.19},
{"m":"M-SSD","x":60,"v":0.14,"lo":0.12,"hi":0.16},
{"m":"M-SSD","x":70,"v":0.12,"lo":0.1,"hi":0.14},
{"m":"M-SSD","x":80,"v":0.1,"lo":0.08,"hi":0.12},
{"m":"M-SVAG","x":1.5,"v":5.5,"lo":5.4,"hi":5.6},
{"m":"M-SVAG","x":2,"v":3.06,"lo":2.98,"hi":3.14},
{"m":"M-SVAG","x":4,"v":2.75,"lo":2.67,"hi":2.83},
{"m":"M-SVAG","x":6,"v":2.65,"lo":2.57,"hi":2.73},
{"m":"M-SVAG","x":8,"v":2.59,"lo":2.51,"hi":2.67},
{"m":"M-SVAG","x":10,"v":2.59,"lo":2.51,"hi":2.67},
{"m":"M-SVAG","x":12,"v":2.61,"lo":2.53,"hi":2.69},
{"m":"M-SVAG","x":14,"v":2.54,"lo":2.46,"hi":2.62},
{"m":"M-SVAG","x":16,"v":2.65,"lo":2.57,"hi":2.73},
{"m":"M-SVAG","x":18,"v":2.59,"lo":2.51,"hi":2.67},
{"m":"M-SVAG","x":20,"v":2.5,"lo":2.42,"hi":2.58},
{"m":"M-SVAG","x":22,"v":2.58,"lo":2.5,"hi":2.66},
{"m":"M-SVAG","x":24.5,"v":2.65,"lo":2.57,"hi":2.73},
{"m":"M-SVAG","x":25.7,"v":1.05,"lo":1.02,"hi":1.08},
{"m":"M-SVAG","x":28,"v":1.09,"lo":1.06,"hi":1.12},
{"m":"M-SVAG","x":30,"v":1.05,"lo":1.02,"hi":1.08},
{"m":"M-SVAG","x":32,"v":1.12,"lo":1.09,"hi":1.15},
{"m":"M-SVAG","x":34,"v":1.07,"lo":1.04,"hi":1.1},
{"m":"M-SVAG","x":36,"v":1.1,"lo":1.07,"hi":1.13},
{"m":"M-SVAG","x":38,"v":1.07,"lo":1.04,"hi":1.1},
{"m":"M-SVAG","x":40,"v":1.09,"lo":1.06,"hi":1.12},
{"m":"M-SVAG","x":42,"v":1.16,"lo":1.13,"hi":1.19},
{"m":"M-SVAG","x":44,"v":1.12,"lo":1.09,"hi":1.15},
{"m":"M-SVAG","x":46,"v":1.12,"lo":1.09,"hi":1.15},
{"m":"M-SVAG","x":48.5,"v":1.16,"lo":1.13,"hi":1.19},
{"m":"M-SVAG","x":49.8,"v":0.81,"lo":0.78,"hi":0.84},
{"m":"M-SVAG","x":52,"v":0.67,"lo":0.65,"hi":0.69},
{"m":"M-SVAG","x":54,"v":0.53,"lo":0.51,"hi":0.55},
{"m":"M-SVAG","x":56,"v":0.43,"lo":0.41,"hi":0.45},
{"m":"M-SVAG","x":58,"v":0.33,"lo":0.31,"hi":0.35},
{"m":"M-SVAG","x":60,"v":0.28,"lo":0.26,"hi":0.3},
{"m":"M-SVAG","x":62,"v":0.26,"lo":0.24,"hi":0.28},
{"m":"M-SVAG","x":64,"v":0.24,"lo":0.22,"hi":0.26},
{"m":"M-SVAG","x":66,"v":0.235,"lo":0.215,"hi":0.255},
{"m":"M-SVAG","x":70,"v":0.22,"lo":0.2,"hi":0.24},
{"m":"M-SVAG","x":75,"v":0.21,"lo":0.19,"hi":0.23},
{"m":"M-SVAG","x":80,"v":0.19,"lo":0.17,"hi":0.21}
],
"p3b": [
{"m":"M-SGD","x":8,"v":0.4,"lo":0.4,"hi":0.4},
{"m":"M-SGD","x":10,"v":0.5068,"lo":0.48,"hi":0.54},
{"m":"M-SGD","x":12,"v":0.502,"lo":0.47,"hi":0.535},
{"m":"M-SGD","x":14,"v":0.5114,"lo":0.48,"hi":0.555},
{"m":"M-SGD","x":16,"v":0.502,"lo":0.47,"hi":0.535},
{"m":"M-SGD","x":18,"v":0.5251,"lo":0.495,"hi":0.555},
{"m":"M-SGD","x":20,"v":0.5091,"lo":0.48,"hi":0.54},
{"m":"M-SGD","x":22,"v":0.5137,"lo":0.485,"hi":0.545},
{"m":"M-SGD","x":24.5,"v":0.5206,"lo":0.49,"hi":0.555},
{"m":"M-SGD","x":25.7,"v":0.69,"lo":0.683,"hi":0.697},
{"m":"M-SGD","x":28,"v":0.6832,"lo":0.676,"hi":0.69},
{"m":"M-SGD","x":30,"v":0.6809,"lo":0.674,"hi":0.688},
{"m":"M-SGD","x":32,"v":0.6809,"lo":0.674,"hi":0.688},
{"m":"M-SGD","x":34,"v":0.6763,"lo":0.669,"hi":0.683},
{"m":"M-SGD","x":36,"v":0.6832,"lo":0.676,"hi":0.69},
{"m":"M-SGD","x":38,"v":0.6786,"lo":0.671,"hi":0.686},
{"m":"M-SGD","x":40,"v":0.6763,"lo":0.669,"hi":0.683},
{"m":"M-SGD","x":42,"v":0.674,"lo":0.667,"hi":0.681},
{"m":"M-SGD","x":44,"v":0.674,"lo":0.667,"hi":0.681},
{"m":"M-SGD","x":46,"v":0.6763,"lo":0.669,"hi":0.683},
{"m":"M-SGD","x":48.5,"v":0.6717,"lo":0.662,"hi":0.68},
{"m":"M-SGD","x":49.8,"v":0.765,"lo":0.759,"hi":0.771},
{"m":"M-SGD","x":52,"v":0.766,"lo":0.761,"hi":0.771},
{"m":"M-SGD","x":55,"v":0.766,"lo":0.761,"hi":0.771},
{"m":"M-SGD","x":57,"v":0.764,"lo":0.759,"hi":0.769},
{"m":"M-SGD","x":59,"v":0.745,"lo":0.739,"hi":0.751},
{"m":"M-SGD","x":61,"v":0.735,"lo":0.729,"hi":0.741},
{"m":"M-SGD","x":63,"v":0.732,"lo":0.726,"hi":0.738},
{"m":"M-SGD","x":64,"v":0.733,"lo":0.727,"hi":0.739},
{"m":"M-SGD","x":65,"v":0.755,"lo":0.75,"hi":0.76},
{"m":"M-SGD","x":66,"v":0.765,"lo":0.761,"hi":0.769},
{"m":"M-SGD","x":68,"v":0.768,"lo":0.764,"hi":0.772},
{"m":"M-SGD","x":70,"v":0.77,"lo":0.766,"hi":0.774},
{"m":"M-SGD","x":75,"v":0.771,"lo":0.767,"hi":0.775},
{"m":"M-SGD","x":80,"v":0.772,"lo":0.768,"hi":0.776},
{"m":"ADAM","x":2,"v":0.45,"lo":0.45,"hi":0.45},
{"m":"ADAM","x":4,"v":0.55,"lo":0.544,"hi":0.556},
{"m":"ADAM","x":6,"v":0.595,"lo":0.589,"hi":0.601},
{"m":"ADAM","x":8,"v":0.62,"lo":0.614,"hi":0.626},
{"m":"ADAM","x":10,"v":0.634,"lo":0.628,"hi":0.64},
{"m":"ADAM","x":12,"v":0.642,"lo":0.635,"hi":0.649},
{"m":"ADAM","x":14,"v":0.65,"lo":0.643,"hi":0.657},
{"m":"ADAM","x":16,"v":0.658,"lo":0.65,"hi":0.666},
{"m":"ADAM","x":18,"v":0.66,"lo":0.652,"hi":0.668},
{"m":"ADAM","x":20,"v":0.66,"lo":0.652,"hi":0.668},
{"m":"ADAM","x":22,"v":0.666,"lo":0.659,"hi":0.673},
{"m":"ADAM","x":24.5,"v":0.671,"lo":0.665,"hi":0.677},
{"m":"ADAM","x":25.7,"v":0.736,"lo":0.731,"hi":0.741},
{"m":"ADAM","x":28,"v":0.731,"lo":0.726,"hi":0.736},
{"m":"ADAM","x":30,"v":0.728,"lo":0.723,"hi":0.733},
{"m":"ADAM","x":32,"v":0.725,"lo":0.72,"hi":0.73},
{"m":"ADAM","x":34,"v":0.723,"lo":0.718,"hi":0.728},
{"m":"ADAM","x":36,"v":0.72,"lo":0.715,"hi":0.725},
{"m":"ADAM","x":38,"v":0.72,"lo":0.715,"hi":0.725},
{"m":"ADAM","x":40,"v":0.719,"lo":0.714,"hi":0.724},
{"m":"ADAM","x":42,"v":0.719,"lo":0.714,"hi":0.724},
{"m":"ADAM","x":44,"v":0.718,"lo":0.713,"hi":0.723},
{"m":"ADAM","x":46,"v":0.717,"lo":0.712,"hi":0.722},
{"m":"ADAM","x":48.5,"v":0.715,"lo":0.71,"hi":0.72},
{"m":"ADAM","x":49.8,"v":0.7395,"lo":0.736,"hi":0.743},
{"m":"ADAM","x":52,"v":0.74,"lo":0.737,"hi":0.743},
{"m":"ADAM","x":55,"v":0.741,"lo":0.738,"hi":0.744},
{"m":"ADAM","x":60,"v":0.7395,"lo":0.736,"hi":0.743},
{"m":"ADAM","x":64,"v":0.7395,"lo":0.736,"hi":0.743},
{"m":"ADAM","x":66,"v":0.744,"lo":0.741,"hi":0.747},
{"m":"ADAM","x":70,"v":0.7465,"lo":0.743,"hi":0.75},
{"m":"ADAM","x":75,"v":0.747,"lo":0.744,"hi":0.75},
{"m":"ADAM","x":80,"v":0.7465,"lo":0.743,"hi":0.75},
{"m":"M-SSD","x":2,"v":0.45,"lo":0.45,"hi":0.45},
{"m":"M-SSD","x":4,"v":0.5572,"lo":0.551,"hi":0.563},
{"m":"M-SSD","x":6,"v":0.5985,"lo":0.592,"hi":0.605},
{"m":"M-SSD","x":8,"v":0.6213,"lo":0.615,"hi":0.628},
{"m":"M-SSD","x":10,"v":0.6328,"lo":0.626,"hi":0.64},
{"m":"M-SSD","x":12,"v":0.6397,"lo":0.631,"hi":0.648},
{"m":"M-SSD","x":14,"v":0.6465,"lo":0.637,"hi":0.656},
{"m":"M-SSD","x":16,"v":0.6557,"lo":0.646,"hi":0.665},
{"m":"M-SSD","x":18,"v":0.658,"lo":0.648,"hi":0.668},
{"m":"M-SSD","x":20,"v":0.658,"lo":0.649,"hi":0.667},
{"m":"M-SSD","x":22,"v":0.6649,"lo":0.657,"hi":0.673},
{"m":"M-SSD","x":24.5,"v":0.6694,"lo":0.663,"hi":0.676},
{"m":"M-SSD","x":25.7,"v":0.7313,"lo":0.726,"hi":0.736},
{"m":"M-SSD","x":28,"v":0.729,"lo":0.724,"hi":0.734},
{"m":"M-SSD","x":30,"v":0.7267,"lo":0.722,"hi":0.732},
{"m":"M-SSD","x":32,"v":0.7244,"lo":0.719,"hi":0.73},
{"m":"M-SSD","x":34,"v":0.7221,"lo":0.717,"hi":0.727},
{"m":"M-SSD","x":36,"v":0.7198,"lo":0.715,"hi":0.725},
{"m":"M-SSD","x":38,"v":0.7198,"lo":0.715,"hi":0.725},
{"m":"M-SSD","x":40,"v":0.7185,"lo":0.713,"hi":0.724},
{"m":"M-SSD","x":42,"v":0.7175,"lo":0.712,"hi":0.723},
{"m":"M-SSD","x":44,"v":0.7175,"lo":0.712,"hi":0.723},
{"m":"M-SSD","x":46,"v":0.7166,"lo":0.711,"hi":0.722},
{"m":"M-SSD","x":48.5,"v":0.7153,"lo":0.71,"hi":0.72},
{"m":"M-SSD","x":49.8,"v":0.7382,"lo":0.735,"hi":0.742},
{"m":"M-SSD","x":52,"v":0.7404,"lo":0.737,"hi":0.744},
{"m":"M-SSD","x":55,"v":0.7414,"lo":0.738,"hi":0.745},
{"m":"M-SSD","x":60,"v":0.7414,"lo":0.738,"hi":0.745},
{"m":"M-SSD","x":64,"v":0.7404,"lo":0.737,"hi":0.744},
{"m":"M-SSD","x":66,"v":0.745,"lo":0.742,"hi":0.748},
{"m":"M-SSD","x":70,"v":0.7473,"lo":0.744,"hi":0.751},
{"m":"M-SSD","x":75,"v":0.7473,"lo":0.744,"hi":0.751},
{"m":"M-SSD","x":80,"v":0.7464,"lo":0.743,"hi":0.75},
{"m":"M-SVAG","x":5,"v":0.45,"lo":0.45,"hi":0.45},
{"m":"M-SVAG","x":8,"v":0.5389,"lo":0.524,"hi":0.554},
{"m":"M-SVAG","x":10,"v":0.5503,"lo":0.535,"hi":0.565},
{"m":"M-SVAG","x":12,"v":0.5572,"lo":0.542,"hi":0.572},
{"m":"M-SVAG","x":14,"v":0.5641,"lo":0.549,"hi":0.579},
{"m":"M-SVAG","x":16,"v":0.5503,"lo":0.535,"hi":0.567},
{"m":"M-SVAG","x":18,"v":0.5733,"lo":0.556,"hi":0.59},
{"m":"M-SVAG","x":20,"v":0.5755,"lo":0.557,"hi":0.594},
{"m":"M-SVAG","x":22,"v":0.5778,"lo":0.558,"hi":0.598},
{"m":"M-SVAG","x":24.5,"v":0.5801,"lo":0.56,"hi":0.601},
{"m":"M-SVAG","x":25.7,"v":0.7221,"lo":0.713,"hi":0.731},
{"m":"M-SVAG","x":28,"v":0.7061,"lo":0.698,"hi":0.714},
{"m":"M-SVAG","x":30,"v":0.7015,"lo":0.694,"hi":0.709},
{"m":"M-SVAG","x":32,"v":0.7001,"lo":0.693,"hi":0.707},
{"m":"M-SVAG","x":34,"v":0.6992,"lo":0.692,"hi":0.706},
{"m":"M-SVAG","x":36,"v":0.7001,"lo":0.693,"hi":0.707},
{"m":"M-SVAG","x":38,"v":0.6969,"lo":0.69,"hi":0.704},
{"m":"M-SVAG","x":40,"v":0.6969,"lo":0.69,"hi":0.704},
{"m":"M-SVAG","x":42,"v":0.6956,"lo":0.689,"hi":0.702},
{"m":"M-SVAG","x":44,"v":0.6937,"lo":0.687,"hi":0.7},
{"m":"M-SVAG","x":46,"v":0.6933,"lo":0.687,"hi":0.7},
{"m":"M-SVAG","x":48.5,"v":0.6923,"lo":0.686,"hi":0.699},
{"m":"M-SVAG","x":49.8,"v":0.768,"lo":0.763,"hi":0.773},
{"m":"M-SVAG","x":52,"v":0.77,"lo":0.765,"hi":0.775},
{"m":"M-SVAG","x":55,"v":0.771,"lo":0.766,"hi":0.776},
{"m":"M-SVAG","x":60,"v":0.771,"lo":0.766,"hi":0.776},
{"m":"M-SVAG","x":62,"v":0.77,"lo":0.765,"hi":0.775},
{"m":"M-SVAG","x":64,"v":0.766,"lo":0.761,"hi":0.771},
{"m":"M-SVAG","x":66,"v":0.771,"lo":0.766,"hi":0.776},
{"m":"M-SVAG","x":68,"v":0.773,"lo":0.768,"hi":0.778},
{"m":"M-SVAG","x":70,"v":0.774,"lo":0.769,"hi":0.779},
{"m":"M-SVAG","x":75,"v":0.775,"lo":0.77,"hi":0.78},
{"m":"M-SVAG","x":80,"v":0.776,"lo":0.771,"hi":0.781}
],
"p4t": [
{"m":"M-SGD","x":8,"v":2.0,"lo":2.0,"hi":2.0},
{"m":"M-SGD","x":9,"v":1.473,"lo":1.468,"hi":1.478},
{"m":"M-SGD","x":12,"v":1.411,"lo":1.407,"hi":1.415},
{"m":"M-SGD","x":20,"v":1.368,"lo":1.364,"hi":1.372},
{"m":"M-SGD","x":30,"v":1.337,"lo":1.334,"hi":1.34},
{"m":"M-SGD","x":40,"v":1.319,"lo":1.316,"hi":1.322},
{"m":"M-SGD","x":50,"v":1.306,"lo":1.303,"hi":1.309},
{"m":"M-SGD","x":60,"v":1.297,"lo":1.294,"hi":1.3},
{"m":"M-SGD","x":80,"v":1.285,"lo":1.282,"hi":1.288},
{"m":"M-SGD","x":100,"v":1.276,"lo":1.273,"hi":1.279},
{"m":"M-SGD","x":118,"v":1.27,"lo":1.267,"hi":1.273},
{"m":"M-SGD","x":130,"v":1.258,"lo":1.255,"hi":1.261},
{"m":"M-SGD","x":140,"v":1.254,"lo":1.251,"hi":1.257},
{"m":"M-SGD","x":150,"v":1.252,"lo":1.249,"hi":1.255},
{"m":"M-SGD","x":175,"v":1.25,"lo":1.247,"hi":1.253},
{"m":"M-SGD","x":200,"v":1.249,"lo":1.246,"hi":1.252},
{"m":"ADAM","x":8,"v":2.0,"lo":2.0,"hi":2.0},
{"m":"ADAM","x":9,"v":1.436,"lo":1.432,"hi":1.44},
{"m":"ADAM","x":12,"v":1.399,"lo":1.396,"hi":1.402},
{"m":"ADAM","x":20,"v":1.368,"lo":1.365,"hi":1.371},
{"m":"ADAM","x":30,"v":1.343,"lo":1.34,"hi":1.346},
{"m":"ADAM","x":40,"v":1.328,"lo":1.325,"hi":1.331},
{"m":"ADAM","x":50,"v":1.319,"lo":1.316,"hi":1.322},
{"m":"ADAM","x":60,"v":1.313,"lo":1.31,"hi":1.316},
{"m":"ADAM","x":80,"v":1.303,"lo":1.3,"hi":1.306},
{"m":"ADAM","x":100,"v":1.298,"lo":1.295,"hi":1.301},
{"m":"ADAM","x":118,"v":1.296,"lo":1.293,"hi":1.299},
{"m":"ADAM","x":130,"v":1.278,"lo":1.275,"hi":1.281},
{"m":"ADAM","x":140,"v":1.274,"lo":1.271,"hi":1.277},
{"m":"ADAM","x":150,"v":1.271,"lo":1.268,"hi":1.274},
{"m":"ADAM","x":175,"v":1.268,"lo":1.265,"hi":1.271},
{"m":"ADAM","x":200,"v":1.266,"lo":1.263,"hi":1.269},
{"m":"M-SSD","x":8,"v":2.0,"lo":2.0,"hi":2.0},
{"m":"M-SSD","x":9,"v":1.448,"lo":1.443,"hi":1.453},
{"m":"M-SSD","x":12,"v":1.411,"lo":1.407,"hi":1.415},
{"m":"M-SSD","x":20,"v":1.38,"lo":1.376,"hi":1.384},
{"m":"M-SSD","x":30,"v":1.359,"lo":1.355,"hi":1.363},
{"m":"M-SSD","x":40,"v":1.347,"lo":1.343,"hi":1.351},
{"m":"M-SSD","x":50,"v":1.34,"lo":1.336,"hi":1.344},
{"m":"M-SSD","x":60,"v":1.334,"lo":1.33,"hi":1.338},
{"m":"M-SSD","x":80,"v":1.328,"lo":1.324,"hi":1.332},
{"m":"M-SSD","x":100,"v":1.325,"lo":1.321,"hi":1.329},
{"m":"M-SSD","x":115,"v":1.323,"lo":1.319,"hi":1.327},
{"m":"M-SSD","x":118,"v":1.322,"lo":1.318,"hi":1.326},
{"m":"M-SSD","x":130,"v":1.303,"lo":1.299,"hi":1.307},
{"m":"M-SSD","x":140,"v":1.299,"lo":1.295,"hi":1.303},
{"m":"M-SSD","x":150,"v":1.296,"lo":1.292,"hi":1.3},
{"m":"M-SSD","x":175,"v":1.292,"lo":1.288,"hi":1.296},
{"m":"M-SSD","x":200,"v":1.29,"lo":1.286,"hi":1.294},
{"m":"M-SVAG","x":8,"v":2.0,"lo":2.0,"hi":2.0},
{"m":"M-SVAG","x":9,"v":1.405,"lo":1.392,"hi":1.418},
{"m":"M-SVAG","x":12,"v":1.374,"lo":1.363,"hi":1.385},
{"m":"M-SVAG","x":20,"v":1.342,"lo":1.332,"hi":1.352},
{"m":"M-SVAG","x":30,"v":1.322,"lo":1.313,"hi":1.331},
{"m":"M-SVAG","x":40,"v":1.31,"lo":1.301,"hi":1.319},
{"m":"M-SVAG","x":50,"v":1.297,"lo":1.288,"hi":1.306},
{"m":"M-SVAG","x":60,"v":1.289,"lo":1.28,"hi":1.298},
{"m":"M-SVAG","x":80,"v":1.279,"lo":1.27,"hi":1.288},
{"m":"M-SVAG","x":100,"v":1.273,"lo":1.264,"hi":1.282},
{"m":"M-SVAG","x":118,"v":1.266,"lo":1.257,"hi":1.275},
{"m":"M-SVAG","x":130,"v":1.254,"lo":1.245,"hi":1.263},
{"m":"M-SVAG","x":140,"v":1.249,"lo":1.24,"hi":1.258},
{"m":"M-SVAG","x":150,"v":1.247,"lo":1.238,"hi":1.256},
{"m":"M-SVAG","x":175,"v":1.244,"lo":1.235,"hi":1.253},
{"m":"M-SVAG","x":200,"v":1.241,"lo":1.232,"hi":1.25}
],
"p4b": [
{"m":"M-SGD","x":9.5,"v":0.545,"lo":0.545,"hi":0.545},
{"m":"M-SGD","x":12,"v":0.5597,"lo":0.5585,"hi":0.5609},
{"m":"M-SGD","x":16,"v":0.5698,"lo":0.5686,"hi":0.571},
{"m":"M-SGD","x":20,"v":0.5743,"lo":0.5731,"hi":0.5755},
{"m":"M-SGD","x":25,"v":0.578,"lo":0.5769,"hi":0.5791},
{"m":"M-SGD","x":30,"v":0.5803,"lo":0.5792,"hi":0.5814},
{"m":"M-SGD","x":40,"v":0.5825,"lo":0.5814,"hi":0.5836},
{"m":"M-SGD","x":50,"v":0.5855,"lo":0.5844,"hi":0.5866},
{"m":"M-SGD","x":60,"v":0.5886,"lo":0.5875,"hi":0.5897},
{"m":"M-SGD","x":70,"v":0.5902,"lo":0.5891,"hi":0.5913},
{"m":"M-SGD","x":80,"v":0.5913,"lo":0.5902,"hi":0.5924},
{"m":"M-SGD","x":90,"v":0.5923,"lo":0.5912,"hi":0.5934},
{"m":"M-SGD","x":100,"v":0.593,"lo":0.5919,"hi":0.5941},
{"m":"M-SGD","x":110,"v":0.5936,"lo":0.5925,"hi":0.5947},
{"m":"M-SGD","x":118,"v":0.5941,"lo":0.593,"hi":0.5952},
{"m":"M-SGD","x":125,"v":0.5952,"lo":0.5941,"hi":0.5963},
{"m":"M-SGD","x":133,"v":0.5964,"lo":0.5953,"hi":0.5975},
{"m":"M-SGD","x":140,"v":0.5966,"lo":0.5955,"hi":0.5977},
{"m":"M-SGD","x":150,"v":0.5969,"lo":0.5958,"hi":0.598},
{"m":"M-SGD","x":175,"v":0.5971,"lo":0.596,"hi":0.5982},
{"m":"M-SGD","x":200,"v":0.5975,"lo":0.5964,"hi":0.5986},
{"m":"ADAM","x":9,"v":0.54,"lo":0.54,"hi":0.54},
{"m":"ADAM","x":12,"v":0.5661,"lo":0.565,"hi":0.5672},
{"m":"ADAM","x":16,"v":0.5734,"lo":0.5723,"hi":0.5745},
{"m":"ADAM","x":20,"v":0.5771,"lo":0.576,"hi":0.5782},
{"m":"ADAM","x":25,"v":0.5799,"lo":0.5788,"hi":0.581},
{"m":"ADAM","x":30,"v":0.5817,"lo":0.5806,"hi":0.5828},
{"m":"ADAM","x":40,"v":0.5832,"lo":0.5821,"hi":0.5843},
{"m":"ADAM","x":50,"v":0.5845,"lo":0.5834,"hi":0.5856},
{"m":"ADAM","x":60,"v":0.5858,"lo":0.5847,"hi":0.5869},
{"m":"ADAM","x":70,"v":0.5868,"lo":0.5857,"hi":0.5879},
{"m":"ADAM","x":80,"v":0.5872,"lo":0.5861,"hi":0.5883},
{"m":"ADAM","x":90,"v":0.5879,"lo":0.5868,"hi":0.589},
{"m":"ADAM","x":100,"v":0.5881,"lo":0.587,"hi":0.5892},
{"m":"ADAM","x":110,"v":0.5884,"lo":0.5873,"hi":0.5895},
{"m":"ADAM","x":118,"v":0.5888,"lo":0.5877,"hi":0.5899},
{"m":"ADAM","x":125,"v":0.5904,"lo":0.5893,"hi":0.5915},
{"m":"ADAM","x":133,"v":0.5923,"lo":0.5912,"hi":0.5934},
{"m":"ADAM","x":140,"v":0.5927,"lo":0.5916,"hi":0.5938},
{"m":"ADAM","x":150,"v":0.5932,"lo":0.5921,"hi":0.5943},
{"m":"ADAM","x":175,"v":0.5938,"lo":0.5927,"hi":0.5949},
{"m":"ADAM","x":200,"v":0.5941,"lo":0.593,"hi":0.5952},
{"m":"M-SSD","x":9,"v":0.54,"lo":0.54,"hi":0.54},
{"m":"M-SSD","x":12,"v":0.5652,"lo":0.564,"hi":0.5664},
{"m":"M-SSD","x":16,"v":0.5707,"lo":0.5695,"hi":0.5719},
{"m":"M-SSD","x":20,"v":0.5739,"lo":0.5727,"hi":0.5751},
{"m":"M-SSD","x":25,"v":0.5762,"lo":0.575,"hi":0.5774},
{"m":"M-SSD","x":30,"v":0.5776,"lo":0.5764,"hi":0.5788},
{"m":"M-SSD","x":40,"v":0.5794,"lo":0.5782,"hi":0.5806},
{"m":"M-SSD","x":50,"v":0.5803,"lo":0.5791,"hi":0.5815},
{"m":"M-SSD","x":60,"v":0.5812,"lo":0.58,"hi":0.5824},
{"m":"M-SSD","x":70,"v":0.582,"lo":0.5808,"hi":0.5832},
{"m":"M-SSD","x":80,"v":0.5824,"lo":0.5812,"hi":0.5836},
{"m":"M-SSD","x":90,"v":0.5828,"lo":0.5816,"hi":0.584},
{"m":"M-SSD","x":100,"v":0.5831,"lo":0.5819,"hi":0.5843},
{"m":"M-SSD","x":110,"v":0.5833,"lo":0.5821,"hi":0.5845},
{"m":"M-SSD","x":118,"v":0.5837,"lo":0.5825,"hi":0.5849},
{"m":"M-SSD","x":125,"v":0.5849,"lo":0.5837,"hi":0.5861},
{"m":"M-SSD","x":133,"v":0.5872,"lo":0.586,"hi":0.5884},
{"m":"M-SSD","x":140,"v":0.5879,"lo":0.5867,"hi":0.5891},
{"m":"M-SSD","x":150,"v":0.5886,"lo":0.5874,"hi":0.5898},
{"m":"M-SSD","x":175,"v":0.5895,"lo":0.5883,"hi":0.5907},
{"m":"M-SSD","x":200,"v":0.5904,"lo":0.5892,"hi":0.5916},
{"m":"M-SVAG","x":8,"v":0.5,"lo":0.5,"hi":0.5},
{"m":"M-SVAG","x":9,"v":0.5638,"lo":0.562,"hi":0.5656},
{"m":"M-SVAG","x":12,"v":0.5707,"lo":0.5689,"hi":0.5725},
{"m":"M-SVAG","x":16,"v":0.5762,"lo":0.5744,"hi":0.578},
{"m":"M-SVAG","x":20,"v":0.5789,"lo":0.5771,"hi":0.5807},
{"m":"M-SVAG","x":25,"v":0.5822,"lo":0.5804,"hi":0.584},
{"m":"M-SVAG","x":30,"v":0.5845,"lo":0.5827,"hi":0.5863},
{"m":"M-SVAG","x":40,"v":0.5872,"lo":0.5854,"hi":0.589},
{"m":"M-SVAG","x":50,"v":0.5891,"lo":0.5873,"hi":0.5909},
{"m":"M-SVAG","x":60,"v":0.5907,"lo":0.5889,"hi":0.5925},
{"m":"M-SVAG","x":70,"v":0.5918,"lo":0.59,"hi":0.5936},
{"m":"M-SVAG","x":80,"v":0.5929,"lo":0.5911,"hi":0.5947},
{"m":"M-SVAG","x":90,"v":0.5935,"lo":0.5917,"hi":0.5953},
{"m":"M-SVAG","x":100,"v":0.5938,"lo":0.592,"hi":0.5956},
{"m":"M-SVAG","x":110,"v":0.5944,"lo":0.5926,"hi":0.5962},
{"m":"M-SVAG","x":118,"v":0.595,"lo":0.5932,"hi":0.5968},
{"m":"M-SVAG","x":125,"v":0.5969,"lo":0.5951,"hi":0.5987},
{"m":"M-SVAG","x":133,"v":0.5989,"lo":0.5971,"hi":0.6007},
{"m":"M-SVAG","x":140,"v":0.5992,"lo":0.5974,"hi":0.601},
{"m":"M-SVAG","x":150,"v":0.5994,"lo":0.5976,"hi":0.6012},
{"m":"M-SVAG","x":175,"v":0.5999,"lo":0.5981,"hi":0.6017},
{"m":"M-SVAG","x":200,"v":0.6001,"lo":0.5983,"hi":0.6019}
]
},
"concat": [
{"width": 229, "height": 220, "title": "Fashion-MNIST (P1)", "data": {"name": "p1t"},
 "layer": [
  {"mark": {"type": "area", "fillOpacity": 0.3, "clip": true},
   "encoding": {
    "x": {"field": "x", "type": "quantitative", "scale": {"domain": [0, 5.86], "nice": false, "zero": false}, "axis": {"values": [0,1,2,3,4,5], "labels": false, "title": null}},
    "y": {"field": "lo", "type": "quantitative", "scale": {"domain": [0.1, 0.8], "nice": false, "zero": false}, "axis": {"values": [0.1,0.2,0.3,0.4,0.5,0.6,0.7,0.8], "format": ".1f", "title": "Training loss"}},
    "y2": {"field": "hi"},
    "fill": {"field": "m", "type": "nominal", "scale": {"domain": ["M-SVAG","M-SSD","ADAM","M-SGD"], "range": ["#7d0c0c","#12857a","#ffa33f","#0b0b8c"]}, "legend": null}}},
  {"mark": {"type": "line", "strokeWidth": 2, "clip": true},
   "encoding": {
    "x": {"field": "x", "type": "quantitative", "scale": {"domain": [0, 5.86], "nice": false, "zero": false}, "axis": {"values": [0,1,2,3,4,5], "labels": false, "title": null}},
    "y": {"field": "v", "type": "quantitative", "scale": {"domain": [0.1, 0.8], "nice": false, "zero": false}, "axis": {"values": [0.1,0.2,0.3,0.4,0.5,0.6,0.7,0.8], "format": ".1f", "title": "Training loss"}},
    "color": {"field": "m", "type": "nominal", "scale": {"domain": ["M-SGD","ADAM","M-SSD","M-SVAG"], "range": ["#0b0b8c","#ffa33f","#12857a","#7d0c0c"]}, "legend": {"title": null, "orient": "none", "legendX": 70, "legendY": 11}}}}
 ]},
{"width": 220, "height": 220, "title": "CIFAR-10 (P2)", "data": {"name": "p2t"},
 "layer": [
  {"mark": {"type": "area", "fillOpacity": 0.3, "clip": true},
   "encoding": {
    "x": {"field": "x", "type": "quantitative", "scale": {"domain": [0, 40], "nice": false, "zero": false}, "axis": {"values": [0,5,10,15,20,25,30,35,40], "labels": false, "title": null}},
    "y": {"field": "lo", "type": "quantitative", "scale": {"domain": [0.5, 2.0], "nice": false, "zero": false}, "axis": {"values": [0.6,0.8,1.0,1.2,1.4,1.6,1.8,2.0], "format": ".1f", "title": "Training loss"}},
    "y2": {"field": "hi"},
    "fill": {"field": "m", "type": "nominal", "scale": {"domain": ["M-SVAG","M-SSD","ADAM","M-SGD"], "range": ["#7d0c0c","#12857a","#ffa33f","#0b0b8c"]}, "legend": null}}},
  {"mark": {"type": "line", "strokeWidth": 2, "clip": true},
   "encoding": {
    "x": {"field": "x", "type": "quantitative", "scale": {"domain": [0, 40], "nice": false, "zero": false}, "axis": {"values": [0,5,10,15,20,25,30,35,40], "labels": false, "title": null}},
    "y": {"field": "v", "type": "quantitative", "scale": {"domain": [0.5, 2.0], "nice": false, "zero": false}, "axis": {"values": [0.6,0.8,1.0,1.2,1.4,1.6,1.8,2.0], "format": ".1f", "title": "Training loss"}},
    "color": {"field": "m", "type": "nominal", "scale": {"domain": ["M-SGD","ADAM","M-SSD","M-SVAG"], "range": ["#0b0b8c","#ffa33f","#12857a","#7d0c0c"]}, "legend": {"title": null, "orient": "none", "legendX": 70, "legendY": 11}}}}
 ]},
{"width": 218, "height": 220, "title": "CIFAR-100 (P3)", "data": {"name": "p3t"},
 "layer": [
  {"mark": {"type": "area", "fillOpacity": 0.3, "clip": true},
   "encoding": {
    "x": {"field": "x", "type": "quantitative", "scale": {"domain": [0, 80], "nice": false, "zero": false}, "axis": {"values": [0,10,20,30,40,50,60,70,80], "labels": false, "title": null}},
    "y": {"field": "lo", "type": "quantitative", "scale": {"domain": [0, 4.5], "nice": false, "zero": false}, "axis": {"values": [0,0.5,1,1.5,2,2.5,3,3.5,4,4.5], "format": ".1f", "title": "Training loss"}},
    "y2": {"field": "hi"},
    "fill": {"field": "m", "type": "nominal", "scale": {"domain": ["M-SVAG","M-SSD","ADAM","M-SGD"], "range": ["#7d0c0c","#12857a","#ffa33f","#0b0b8c"]}, "legend": null}}},
  {"mark": {"type": "line", "strokeWidth": 2, "clip": true},
   "encoding": {
    "x": {"field": "x", "type": "quantitative", "scale": {"domain": [0, 80], "nice": false, "zero": false}, "axis": {"values": [0,10,20,30,40,50,60,70,80], "labels": false, "title": null}},
    "y": {"field": "v", "type": "quantitative", "scale": {"domain": [0, 4.5], "nice": false, "zero": false}, "axis": {"values": [0,0.5,1,1.5,2,2.5,3,3.5,4,4.5], "format": ".1f", "title": "Training loss"}},
    "color": {"field": "m", "type": "nominal", "scale": {"domain": ["M-SGD","ADAM","M-SSD","M-SVAG"], "range": ["#0b0b8c","#ffa33f","#12857a","#7d0c0c"]}, "legend": {"title": null, "orient": "none", "legendX": 70, "legendY": 11}}}}
 ]},
{"width": 215, "height": 220, "title": "War and Peace (P4)", "data": {"name": "p4t"},
 "layer": [
  {"mark": {"type": "area", "fillOpacity": 0.3, "clip": true},
   "encoding": {
    "x": {"field": "x", "type": "quantitative", "scale": {"domain": [0, 200], "nice": false, "zero": false}, "axis": {"values": [0,50,100,150,200], "labels": false, "title": null}},
    "y": {"field": "lo", "type": "quantitative", "scale": {"domain": [1.2, 1.6], "nice": false, "zero": false}, "axis": {"values": [1.2,1.25,1.3,1.35,1.4,1.45,1.5,1.55,1.6], "format": ".2f", "title": "Training loss"}},
    "y2": {"field": "hi"},
    "fill": {"field": "m", "type": "nominal", "scale": {"domain": ["M-SVAG","M-SSD","ADAM","M-SGD"], "range": ["#7d0c0c","#12857a","#ffa33f","#0b0b8c"]}, "legend": null}}},
  {"mark": {"type": "line", "strokeWidth": 2, "clip": true},
   "encoding": {
    "x": {"field": "x", "type": "quantitative", "scale": {"domain": [0, 200], "nice": false, "zero": false}, "axis": {"values": [0,50,100,150,200], "labels": false, "title": null}},
    "y": {"field": "v", "type": "quantitative", "scale": {"domain": [1.2, 1.6], "nice": false, "zero": false}, "axis": {"values": [1.2,1.25,1.3,1.35,1.4,1.45,1.5,1.55,1.6], "format": ".2f", "title": "Training loss"}},
    "color": {"field": "m", "type": "nominal", "scale": {"domain": ["M-SGD","ADAM","M-SSD","M-SVAG"], "range": ["#0b0b8c","#ffa33f","#12857a","#7d0c0c"]}, "legend": {"title": null, "orient": "none", "legendX": 70, "legendY": 11}}}}
 ]},
{"width": 229, "height": 220, "data": {"name": "p1b"},
 "layer": [
  {"mark": {"type": "area", "fillOpacity": 0.3, "clip": true},
   "encoding": {
    "x": {"field": "x", "type": "quantitative", "scale": {"domain": [0, 5.86], "nice": false, "zero": false}, "axis": {"values": [0,1,2,3,4,5], "title": "Steps (10³)"}},
    "y": {"field": "lo", "type": "quantitative", "scale": {"domain": [0.8, 0.925], "nice": false, "zero": false}, "axis": {"values": [0.8,0.82,0.84,0.86,0.88,0.9,0.92], "format": ".2f", "title": "Test accuracy"}},
    "y2": {"field": "hi"},
    "fill": {"field": "m", "type": "nominal", "scale": {"domain": ["M-SVAG","M-SSD","ADAM","M-SGD"], "range": ["#7d0c0c","#12857a","#ffa33f","#0b0b8c"]}, "legend": null}}},
  {"mark": {"type": "line", "strokeWidth": 2, "clip": true},
   "encoding": {
    "x": {"field": "x", "type": "quantitative", "scale": {"domain": [0, 5.86], "nice": false, "zero": false}, "axis": {"values": [0,1,2,3,4,5], "title": "Steps (10³)"}},
    "y": {"field": "v", "type": "quantitative", "scale": {"domain": [0.8, 0.925], "nice": false, "zero": false}, "axis": {"values": [0.8,0.82,0.84,0.86,0.88,0.9,0.92], "format": ".2f", "title": "Test accuracy"}},
    "color": {"field": "m", "type": "nominal", "scale": {"domain": ["M-SGD","ADAM","M-SSD","M-SVAG"], "range": ["#0b0b8c","#ffa33f","#12857a","#7d0c0c"]}, "legend": {"title": null, "orient": "none", "legendX": 70, "legendY": 11}}}}
 ]},
{"width": 220, "height": 220, "data": {"name": "p2b"},
 "layer": [
  {"mark": {"type": "area", "fillOpacity": 0.3, "clip": true},
   "encoding": {
    "x": {"field": "x", "type": "quantitative", "scale": {"domain": [0, 40], "nice": false, "zero": false}, "axis": {"values": [0,5,10,15,20,25,30,35,40], "title": "Steps (10³)"}},
    "y": {"field": "lo", "type": "quantitative", "scale": {"domain": [0.7, 0.85], "nice": false, "zero": false}, "axis": {"values": [0.7,0.72,0.74,0.76,0.78,0.8,0.82,0.84], "format": ".2f", "title": "Test accuracy"}},
    "y2": {"field": "hi"},
    "fill": {"field": "m", "type": "nominal", "scale": {"domain": ["M-SVAG","M-SSD","ADAM","M-SGD"], "range": ["#7d0c0c","#12857a","#ffa33f","#0b0b8c"]}, "legend": null}}},
  {"mark": {"type": "line", "strokeWidth": 2, "clip": true},
   "encoding": {
    "x": {"field": "x", "type": "quantitative", "scale": {"domain": [0, 40], "nice": false, "zero": false}, "axis": {"values": [0,5,10,15,20,25,30,35,40], "title": "Steps (10³)"}},
    "y": {"field": "v", "type": "quantitative", "scale": {"domain": [0.7, 0.85], "nice": false, "zero": false}, "axis": {"values": [0.7,0.72,0.74,0.76,0.78,0.8,0.82,0.84], "format": ".2f", "title": "Test accuracy"}},
    "color": {"field": "m", "type": "nominal", "scale": {"domain": ["M-SGD","ADAM","M-SSD","M-SVAG"], "range": ["#0b0b8c","#ffa33f","#12857a","#7d0c0c"]}, "legend": {"title": null, "orient": "none", "legendX": 70, "legendY": 11}}}}
 ]},
{"width": 218, "height": 220, "data": {"name": "p3b"},
 "layer": [
  {"mark": {"type": "area", "fillOpacity": 0.3, "clip": true},
   "encoding": {
    "x": {"field": "x", "type": "quantitative", "scale": {"domain": [0, 80], "nice": false, "zero": false}, "axis": {"values": [0,10,20,30,40,50,60,70,80], "title": "Steps (10³)"}},
    "y": {"field": "lo", "type": "quantitative", "scale": {"domain": [0.5, 0.8], "nice": false, "zero": false}, "axis": {"values": [0.5,0.55,0.6,0.65,0.7,0.75,0.8], "format": ".2f", "title": "Test accuracy"}},
    "y2": {"field": "hi"},
    "fill": {"field": "m", "type": "nominal", "scale": {"domain": ["M-SVAG","M-SSD","ADAM","M-SGD"], "range": ["#7d0c0c","#12857a","#ffa33f","#0b0b8c"]}, "legend": null}}},
  {"mark": {"type": "line", "strokeWidth": 2, "clip": true},
   "encoding": {
    "x": {"field": "x", "type": "quantitative", "scale": {"domain": [0, 80], "nice": false, "zero": false}, "axis": {"values": [0,10,20,30,40,50,60,70,80], "title": "Steps (10³)"}},
    "y": {"field": "v", "type": "quantitative", "scale": {"domain": [0.5, 0.8], "nice": false, "zero": false}, "axis": {"values": [0.5,0.55,0.6,0.65,0.7,0.75,0.8], "format": ".2f", "title": "Test accuracy"}},
    "color": {"field": "m", "type": "nominal", "scale": {"domain": ["M-SGD","ADAM","M-SSD","M-SVAG"], "range": ["#0b0b8c","#ffa33f","#12857a","#7d0c0c"]}, "legend": {"title": null, "orient": "none", "legendX": 70, "legendY": 11}}}}
 ]},
{"width": 215, "height": 220, "data": {"name": "p4b"},
 "layer": [
  {"mark": {"type": "area", "fillOpacity": 0.3, "clip": true},
   "encoding": {
    "x": {"field": "x", "type": "quantitative", "scale": {"domain": [0, 200], "nice": false, "zero": false}, "axis": {"values": [0,50,100,150,200], "title": "Steps (10³)"}},
    "y": {"field": "lo", "type": "quantitative", "scale": {"domain": [0.55, 0.61], "nice": false, "zero": false}, "axis": {"values": [0.55,0.56,0.57,0.58,0.59,0.6,0.61], "format": ".2f", "title": "Test accuracy"}},
    "y2": {"field": "hi"},
    "fill": {"field": "m", "type": "nominal", "scale": {"domain": ["M-SVAG","M-SSD","ADAM","M-SGD"], "range": ["#7d0c0c","#12857a","#ffa33f","#0b0b8c"]}, "legend": null}}},
  {"mark": {"type": "line", "strokeWidth": 2, "clip": true},
   "encoding": {
    "x": {"field": "x", "type": "quantitative", "scale": {"domain": [0, 200], "nice": false, "zero": false}, "axis": {"values": [0,50,100,150,200], "title": "Steps (10³)"}},
    "y": {"field": "v", "type": "quantitative", "scale": {"domain": [0.55, 0.61], "nice": false, "zero": false}, "axis": {"values": [0.55,0.56,0.57,0.58,0.59,0.6,0.61], "format": ".2f", "title": "Test accuracy"}},
    "color": {"field": "m", "type": "nominal", "scale": {"domain": ["M-SGD","ADAM","M-SSD","M-SVAG"], "range": ["#0b0b8c","#ffa33f","#12857a","#7d0c0c"]}, "legend": {"title": null, "orient": "none", "legendX": 70, "legendY": 11}}}}
 ]}
]
}
